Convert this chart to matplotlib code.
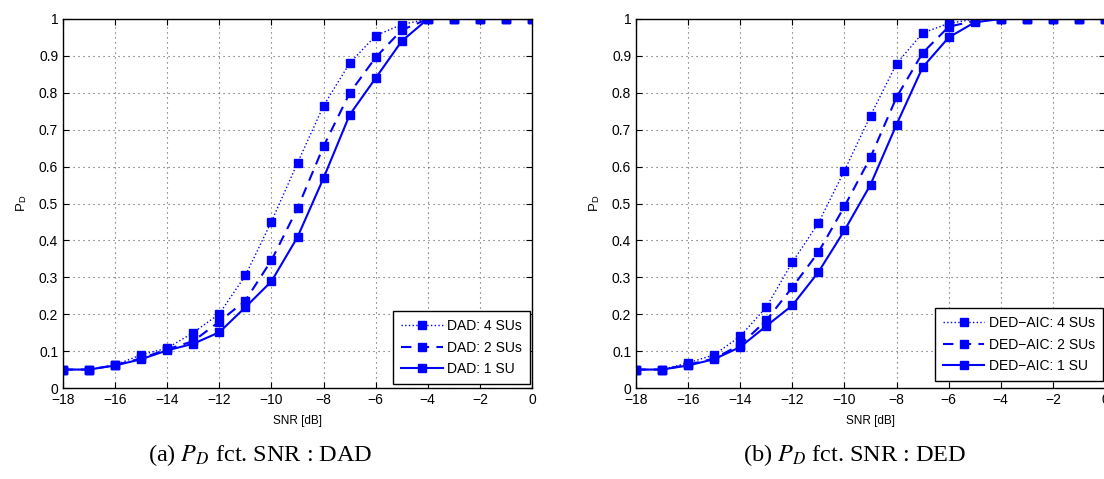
import numpy as np
import matplotlib
matplotlib.use("Agg")
from matplotlib import pyplot as plt

plt.rcParams['font.family'] = ['Liberation Sans', 'DejaVu Sans']
plt.rcParams['mathtext.fontset'] = 'stix'

snr = [-18, -17, -16, -15, -14, -13, -12, -11, -10, -9, -8, -7, -6, -5, -4, -3, -2, -1, 0]

# DAD
dad_4su = [0.05, 0.05, 0.062, 0.09, 0.108, 0.15, 0.201, 0.305, 0.451, 0.61, 0.765,
           0.88, 0.955, 0.985, 1, 1, 1, 1, 1]
dad_2su = [0.05, 0.05, 0.062, 0.08, 0.105, 0.127, 0.18, 0.237, 0.346, 0.487, 0.655,
           0.799, 0.896, 0.97, 1, 1, 1, 1, 1]
dad_1su = [0.05, 0.05, 0.061, 0.078, 0.102, 0.12, 0.151, 0.219, 0.289, 0.409, 0.569,
           0.74, 0.84, 0.94, 1, 1, 1, 1, 1]

# DED-AIC
ded_4su = [0.05, 0.05, 0.068, 0.09, 0.14, 0.219, 0.341, 0.447, 0.589, 0.738, 0.879,
           0.962, 0.988, 1, 1, 1, 1, 1, 1]
ded_2su = [0.05, 0.05, 0.063, 0.08, 0.117, 0.183, 0.273, 0.368, 0.492, 0.625, 0.788,
           0.908, 0.979, 0.995, 1, 1, 1, 1, 1]
ded_1su = [0.05, 0.05, 0.061, 0.078, 0.111, 0.168, 0.224, 0.314, 0.427, 0.551, 0.714,
           0.869, 0.95, 0.991, 1, 1, 1, 1, 1]

xticks = np.arange(-18, 1, 2)
yticks = np.arange(0, 1.01, 0.1)
ytick_labels = ['0', '0.1', '0.2', '0.3', '0.4', '0.5', '0.6', '0.7', '0.8', '0.9', '1']

W, H = 1104, 479
fig = plt.figure(figsize=(W / 100, H / 100), dpi=100)
ax1 = fig.add_axes([63 / W, 91 / H, 469 / W, 369 / H])
ax2 = fig.add_axes([636 / W, 91 / H, 469 / W, 369 / H])

blue = (0, 0, 1)


def draw_panel(ax, s4, s2, s1, name, leg_anchor):
    ax.plot(snr, s4, linestyle=':', lw=1.0, color=blue, marker='s', ms=5.5,
            label=name + ': 4 SUs')
    ax.plot(snr, s2, linestyle='--', lw=1.5, color=blue, marker='s', ms=5.5,
            label=name + ': 2 SUs', dashes=(5, 3.5))
    ax.plot(snr, s1, linestyle='-', lw=1.5, color=blue, marker='s', ms=5.5,
            label=name + ': 1 SU')
    ax.set_xlim(-18, 0)
    ax.set_ylim(0, 1)
    ax.set_xticks(xticks)
    ax.set_yticks(yticks)
    ax.set_yticklabels(ytick_labels)
    ax.grid(True, linestyle=(0, (1, 3.5)), color='0.35', lw=0.8)
    ax.tick_params(direction='in', top=True, right=True, length=4,
                   labelsize=10, pad=3.5)
    for sp in ax.spines.values():
        sp.set_linewidth(1.0)
        sp.set_color('black')
    ax.set_xlabel('SNR [dB]', fontsize=8.5, labelpad=6)
    ax.set_ylabel(r'P$_\mathregular{D}$', fontsize=9.5, labelpad=7)
    leg = ax.legend(loc='lower right', bbox_to_anchor=leg_anchor, fontsize=10,
                    handlelength=3.0, numpoints=1, fancybox=False,
                    edgecolor='black', framealpha=1, borderaxespad=0,
                    labelspacing=0.55, handletextpad=0.35, borderpad=0.55)
    leg.get_frame().set_linewidth(1.0)


draw_panel(ax1, dad_4su, dad_2su, dad_1su, 'DAD', (0.9957, 0.011))
draw_panel(ax2, ded_4su, ded_2su, ded_1su, 'DED\u2212AIC', (0.9957, 0.019))

fig.text(260 / W, 1 - 455 / H, r'(a) $P_D$ fct. SNR : DAD', ha='center', va='center',
         fontsize=17.5, family='Liberation Serif')
fig.text(855 / W, 1 - 455 / H, r'(b) $P_D$ fct. SNR : DED', ha='center', va='center',
         fontsize=17.5, family='Liberation Serif')

fig.savefig('out.png', dpi=100)
